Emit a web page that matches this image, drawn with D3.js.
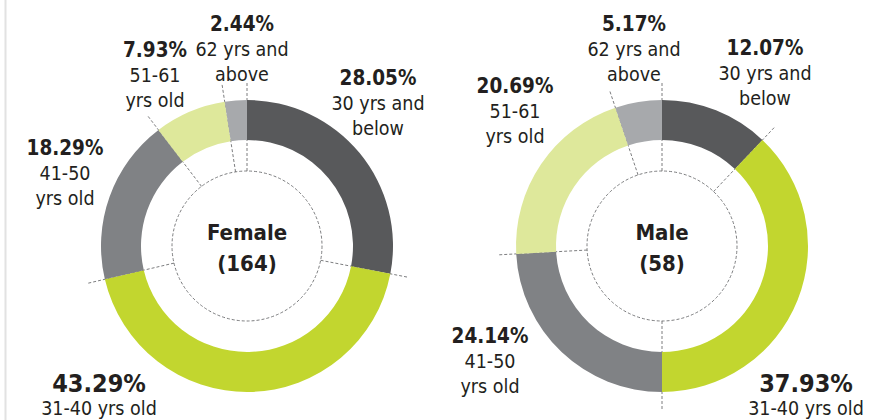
<!DOCTYPE html>
<html>
<head>
<meta charset="utf-8">
<script src="https://cdn.jsdelivr.net/npm/d3@7"></script>
<style>
  body { margin: 0; background: #fff; }
  svg text { font-family: "DejaVu Sans Condensed", "DejaVu Sans", sans-serif; fill: #231f20; }
</style>
</head>
<body>
<div id="chart"></div>
<script>
// age groups, clockwise from 12 o'clock
var ageGroups = ["30 yrs and below", "31-40 yrs old", "41-50 yrs old", "51-61 yrs old", "62 yrs and above"];
var ageLines = [["30 yrs and", "below"], ["31-40 yrs old"], ["41-50", "yrs old"], ["51-61", "yrs old"], ["62 yrs and", "above"]];
var genders = ["Female", "Male"];
var totals = [164, 58];
var femaleShare = [28.05, 43.29, 18.29, 7.93, 2.44];
var maleShare = [12.07, 37.93, 24.14, 20.69, 5.17];

var colors = ["#58595b", "#c2d62f", "#808285", "#dee89b", "#a7a9ac"];

var width = 890, height = 420;
var svg = d3.select("#chart").append("svg")
    .attr("width", width)
    .attr("height", height);

// thin rule on the left edge
svg.append("line")
    .attr("x1", 5.5).attr("x2", 5.5)
    .attr("y1", 0).attr("y2", height)
    .style("stroke", "#e2e2e2")
    .style("stroke-width", 2);

var rOuter = 146, rInner = 106, rDash = 75, rLead = 165;

// label anchors relative to the donut centre (first line = percentage)
var labelPos = [
    [[131, -161], [-148, 146], [-182, -91], [-92, -189], [-5, -215]],
    [[103, -191], [144, 146], [-172, 97], [-147, -153], [-28, -215]]
];

var centres = [[247, 246], [662, 246]];
var shares = [femaleShare, maleShare];

var pie = d3.pie().sort(null).value(function(d) { return d; });
var arc = d3.arc().innerRadius(rInner).outerRadius(rOuter);

shares.forEach(function(vals, gi) {
    var g = svg.append("g")
        .attr("transform", "translate(" + centres[gi][0] + "," + centres[gi][1] + ")");
    var slices = pie(vals);
    var biggest = d3.maxIndex(vals);

    // dashed inner circle
    g.append("circle")
        .attr("r", rDash)
        .style("fill", "none")
        .style("stroke", "#6d6e71")
        .style("stroke-width", 0.9)
        .style("stroke-dasharray", "3,2");

    // dashed leader lines at each slice boundary
    g.selectAll(".lead").data(slices).enter().append("line")
        .attr("class", "lead")
        .attr("x1", function(d) { return rDash * Math.sin(d.startAngle); })
        .attr("y1", function(d) { return -rDash * Math.cos(d.startAngle); })
        .attr("x2", function(d) { return rLead * Math.sin(d.startAngle); })
        .attr("y2", function(d) { return -rLead * Math.cos(d.startAngle); })
        .style("stroke", "#6d6e71")
        .style("stroke-width", 0.9)
        .style("stroke-dasharray", "3,2");

    // ring
    g.selectAll(".slice").data(slices).enter().append("path")
        .attr("class", "slice")
        .attr("d", arc)
        .style("fill", function(d, i) { return colors[i]; });

    // centre title
    g.append("text")
        .attr("text-anchor", "middle")
        .attr("y", -6)
        .style("font-weight", "bold")
        .style("font-size", "22px")
        .text(genders[gi]);
    g.append("text")
        .attr("text-anchor", "middle")
        .attr("y", 25)
        .style("font-weight", "bold")
        .style("font-size", "22px")
        .text("(" + totals[gi] + ")");

    // labels
    vals.forEach(function(v, i) {
        var p = labelPos[gi][i];
        var big = (i == biggest);
        var t = g.append("text")
            .attr("text-anchor", "middle")
            .attr("x", p[0])
            .attr("y", p[1]);
        t.append("tspan")
            .style("font-weight", "bold")
            .style("font-size", big ? "25px" : "20.5px")
            .text(d3.format(".2f")(v) + "%");
        ageLines[i].forEach(function(line, k) {
            t.append("tspan")
                .attr("x", p[0])
                .attr("dy", k == 0 ? (big ? 23 : 25) : 24.5)
                .style("font-size", "19.5px")
                .text(line);
        });
    });
});
</script>
</body>
</html>
